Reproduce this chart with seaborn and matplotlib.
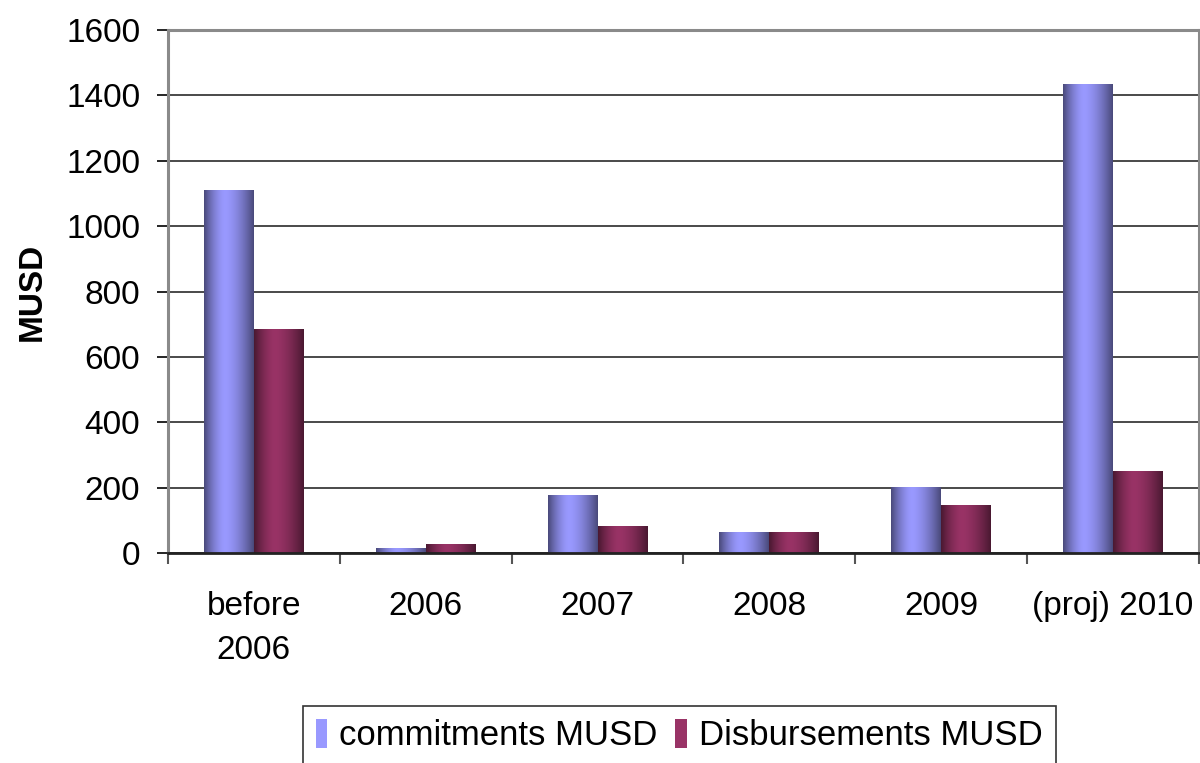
import numpy as np
import pandas as pd
import matplotlib
matplotlib.use("Agg")
import matplotlib.pyplot as plt
from matplotlib.patches import Rectangle
from matplotlib.ticker import FixedLocator
import seaborn as sns

# Data (MUSD)
categories = ["before\n2006", "2006", "2007", "2008", "2009", "(proj) 2010"]
commitments = [1110, 15, 177, 64, 200, 1434]
disbursements = [685, 25, 80, 64, 144, 248]
series_names = ["commitments MUSD", "Disbursements MUSD"]
y_ticks = [0, 200, 400, 600, 800, 1000, 1200, 1400, 1600]

base_colors = {"commitments MUSD": "#9999ff", "Disbursements MUSD": "#993366"}

df = pd.DataFrame({
    "category": categories * 2,
    "series": [series_names[0]] * len(categories) + [series_names[1]] * len(categories),
    "value": commitments + disbursements,
})

sns.set_theme(style="white")
plt.rcParams["font.family"] = ["Liberation Sans", "DejaVu Sans"]
plt.rcParams["text.color"] = "black"
plt.rcParams["axes.labelcolor"] = "black"
plt.rcParams["xtick.color"] = "black"
plt.rcParams["ytick.color"] = "black"

fig = plt.figure(figsize=(12, 7.63), dpi=100)
ax = fig.add_axes([0.14, 0.2752, 0.859, 0.6855])

sns.barplot(data=df, x="category", y="value", hue="series", order=categories,
            hue_order=series_names, palette=base_colors, width=0.58,
            dodge=True, legend=False, ax=ax, edgecolor="none", linewidth=0)


def cylinder_shade(hex_color, n=120, peak=0.42, dark=0.48):
    rgb = np.array(matplotlib.colors.to_rgb(hex_color))
    t = np.linspace(0, 1, n)
    d = np.where(t < peak, (peak - t) / peak, (t - peak) / (1 - peak))
    f = 1 - (1 - dark) * d ** 1.6
    return (rgb[None, :] * f[:, None])[None, :, :]


# Replace flat fills with a dark-light-dark cylinder gradient
bars = [p for p in ax.patches if isinstance(p, Rectangle) and p.get_height() > 0]
for i, bar in enumerate(bars):
    series = series_names[0] if i < len(categories) else series_names[1]
    x0, y0 = bar.get_x(), bar.get_y()
    w, h = bar.get_width(), bar.get_height()
    bar.set_facecolor("none")
    ax.imshow(cylinder_shade(base_colors[series]), extent=[x0, x0 + w, y0, y0 + h],
              aspect="auto", interpolation="bilinear", zorder=2)

ax.set_xlim(-0.5, len(categories) - 0.5)
ax.set_ylim(0, 1600)
ax.set_yticks(y_ticks)
ax.set_yticklabels([str(v) for v in y_ticks])

# Gridlines
ax.yaxis.grid(True, color="#3c3c3c", linewidth=1.3, zorder=1)
ax.set_axisbelow(True)

# Category boundary ticks
ax.xaxis.set_minor_locator(FixedLocator(np.arange(-0.5, len(categories), 1.0)))
ax.tick_params(axis="x", which="major", length=0, pad=27, labelsize=24, colors="black")
ax.tick_params(axis="x", which="minor", bottom=True, length=8, width=1.5, color="#555555")
ax.tick_params(axis="y", which="major", left=True, length=8, width=1.2, color="black",
               pad=12, labelsize=24, colors="black")
for lab in ax.get_xticklabels():
    lab.set_linespacing(1.55)

ax.set_xlabel("")
ax.set_ylabel("MUSD", fontsize=24, fontweight="bold", labelpad=13, color="black")

for side in ["left", "top", "right"]:
    ax.spines[side].set_color("#8a8a8a")
    ax.spines[side].set_linewidth(2.2)
ax.spines["bottom"].set_color("#222222")
ax.spines["bottom"].set_linewidth(2)

handles = [Rectangle((0, 0), 1, 1, facecolor=base_colors[s], edgecolor="none") for s in series_names]
leg = fig.legend(handles, series_names, loc="lower center", bbox_to_anchor=(0.566, -0.003),
                 ncol=2, fontsize=25, frameon=True, fancybox=False, handlelength=0.33,
                 handleheight=0.9, handletextpad=0.35, columnspacing=0.5,
                 borderpad=0.38, borderaxespad=0)
leg.get_frame().set_edgecolor("black")
leg.get_frame().set_linewidth(1.2)
for t in leg.get_texts():
    t.set_color("black")

fig.savefig("out.png", dpi=100)
